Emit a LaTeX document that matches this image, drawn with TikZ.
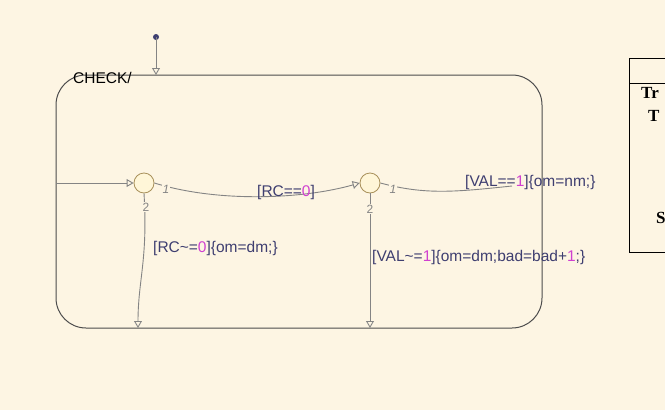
\documentclass[tikz,border=0pt]{standalone}
\usepackage{fontspec}
\setmainfont{Liberation Sans}
\newfontfamily\tablefont{Liberation Serif}
\usetikzlibrary{arrows}
\definecolor{bg}{HTML}{FDF5E3}
\definecolor{wire}{HTML}{848484}
\definecolor{labeltext}{HTML}{3E3E70}
\definecolor{sfnum}{HTML}{D040D0}
\definecolor{juncfill}{HTML}{FFF6D8}
\definecolor{juncline}{HTML}{A8905A}
\newcommand{\sfval}[1]{\textcolor{sfnum}{#1}}

\begin{document}
\begin{tikzpicture}[x=1pt,y=-1pt]
\tikzset{junction/.style = {shape=circle,draw=juncline,fill=juncfill,line width=0.8pt,minimum size=20pt,inner sep=0pt}}
\tikzset{trans/.style = {draw=wire,line width=0.9pt,-open triangle 60}}
\tikzset{plain/.style = {draw=wire,line width=0.9pt}}
\tikzset{cond/.style = {anchor=west,inner sep=0pt,text=labeltext,font=\fontsize{15.5}{18}\selectfont}}
\tikzset{order/.style = {fill=bg,inner sep=1pt,text=wire,font=\fontsize{12}{14}\selectfont}}
\fill[bg] (0,0) rectangle (665,410);
\useasboundingbox (0,0) rectangle (665,410);
% state
\draw[draw=black!70,line width=1pt,rounded corners=30pt] (56,75) rectangle (542,328);
\node[anchor=base west,inner sep=0pt,font=\fontsize{15.5}{18}\selectfont] (check) at (73,83) {CHECK/};
% table
\draw[line width=0.8pt] (629,58) rectangle (700,252);
\draw[line width=0.8pt] (629,83) -- (700,83);
\node[anchor=base west,inner sep=0pt,font=\tablefont\bfseries\fontsize{17}{20}\selectfont] (tr) at (641,98) {Tr};
\node[anchor=base west,inner sep=0pt,font=\tablefont\bfseries\fontsize{17}{20}\selectfont] (t) at (648,121) {T};
\node[anchor=base west,inner sep=0pt,font=\tablefont\bfseries\fontsize{17}{20}\selectfont] (s) at (656,223) {S};
% junctions
\node[junction] (j1) at (144,183) {};
\node[junction] (j2) at (370,183) {};
\fill[labeltext] (156,37) circle (3pt) coordinate (dot);
\coordinate (top) at (156,75);
\coordinate (in1) at (56,183);
\coordinate (down1) at (138,328);
\coordinate (down2) at (370,328);
\coordinate (out2) at (512,186);
%transitions
\draw[trans] (dot) -- (top);
\draw[trans] (in1) -- (j1.west);
\draw[trans] (j1.east) .. controls (215,202) and (300,200) .. (j2.west);
\draw[trans] (j1.south) .. controls (148,260) and (138,280) .. (down1);
\draw[trans] (j2.south) -- (down2);
\draw[plain] (j2.east) .. controls (425,195) and (455,192) .. (out2);
% execution order
\node[order] (o11) at (166,189) {\itshape 1};
\node[order] (o12) at (146,207) {2};
\node[order] (o21) at (393,189) {\itshape 1};
\node[order] (o22) at (370,209) {2};
% labels
\node[cond] (c1) at (257,192) {[RC==\sfval{0}]};
\node[cond] (c2) at (153,248) {[RC\textasciitilde=\sfval{0}]\{om=dm;\}};
\node[cond] (c3) at (465,182) {[VAL==\sfval{1}]\{om=nm;\}};
\node[cond] (c4) at (372,257) {[VAL\textasciitilde=\sfval{1}]\{om=dm;bad=bad+\sfval{1};\}};
\end{tikzpicture}
\end{document}
